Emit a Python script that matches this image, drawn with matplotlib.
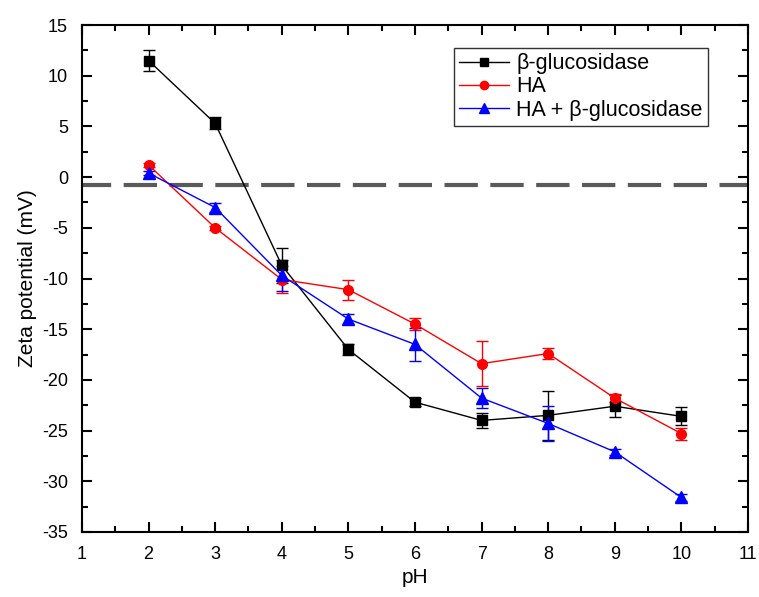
import matplotlib
matplotlib.use('Agg')
import matplotlib.pyplot as plt
from matplotlib.ticker import MultipleLocator
from matplotlib.lines import Line2D

plt.rcParams['font.family'] = ['Liberation Sans', 'DejaVu Sans']
plt.rcParams['axes.unicode_minus'] = False

ph = [2, 3, 4, 5, 6, 7, 8, 9, 10]

glu = [11.5, 5.3, -8.7, -17.0, -22.2, -24.0, -23.5, -22.6, -23.6]
glu_err = [1.0, 0.6, 1.7, 0.5, 0.4, 0.7, 2.45, 1.1, 0.9]

ha = [1.2, -5.0, -10.1, -11.1, -14.5, -18.4, -17.4, -21.8, -25.3]
ha_err = [0.2, 0.2, 1.3, 1.0, 0.6, 2.2, 0.5, 0.4, 0.6]

ha_glu = [0.4, -3.0, -9.7, -14.0, -16.5, -21.8, -24.3, -27.1, -31.6]
ha_glu_err = [0.2, 0.4, 1.5, 0.5, 1.6, 1.0, 1.7, 0.3, 0.3]

zero_line = -0.8

fig = plt.figure(figsize=(7.59, 5.97), dpi=100)
ax = fig.add_axes([0.108, 0.109, 0.8775, 0.849])

ax.axhline(zero_line, color='#5a5a5a', lw=3, ls=(1, (8, 3)), zorder=1)

series = [
    (glu, glu_err, 'black', 's', 7, '\u03b2-glucosidase'),
    (ha, ha_err, 'red', 'o', 7, 'HA'),
    (ha_glu, ha_glu_err, 'blue', '^', 8, 'HA + \u03b2-glucosidase'),
]
handles = []
for y, e, c, m, ms, lab in series:
    ax.errorbar(ph, y, yerr=e, color=c, lw=1, marker=m, ms=ms,
                capsize=4, elinewidth=1, zorder=3)
    handles.append(Line2D([], [], color=c, lw=1, marker=m, ms=ms - 1, label=lab))

ax.set_xlim(1, 11)
ax.set_ylim(-35, 15)
ax.xaxis.set_major_locator(MultipleLocator(1))
ax.xaxis.set_minor_locator(MultipleLocator(0.5))
ax.yaxis.set_major_locator(MultipleLocator(5))
ax.yaxis.set_minor_locator(MultipleLocator(2.5))
ax.tick_params(which='both', direction='in', top=True, right=True, width=1.5)
ax.tick_params(which='major', length=7, labelsize=13, pad=10)
ax.tick_params(which='minor', length=4)
for s in ax.spines.values():
    s.set_linewidth(1.5)

ax.set_xlabel('pH', fontsize=15, labelpad=4)
ax.set_ylabel('Zeta potential (mV)', fontsize=15, labelpad=4)

leg = ax.legend(handles=handles, loc='upper right', bbox_to_anchor=(0.94, 0.955),
                fontsize=15.5, frameon=True, fancybox=False, edgecolor='black',
                handlelength=2.3, handletextpad=0.35, borderpad=0.25,
                labelspacing=0.1, borderaxespad=0)
leg.get_frame().set_linewidth(1)

fig.savefig('out.png', dpi=100)
